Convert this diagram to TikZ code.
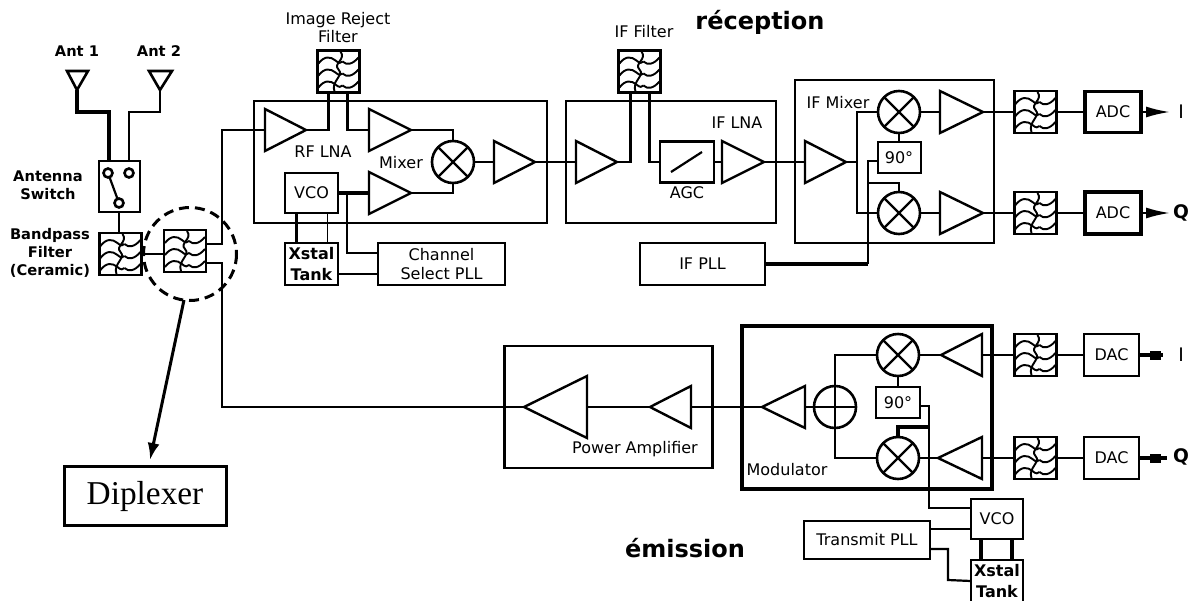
\documentclass[tikz,border=0pt]{standalone}
\usepackage{fontspec}
\setmainfont{DejaVu Sans}
\newfontfamily\timesf{Liberation Serif}
\usetikzlibrary{arrows.meta}
\newlength{\px}\setlength{\px}{.75pt}
\tikzset{
  x=.75pt,y=-.75pt,
  wire/.style={line width=2.2\px,line join=miter},
  thin wire/.style={line width=1.6\px},
  fat wire/.style={line width=3.2\px},
  blk/.style={draw,line width=2.4\px,outer sep=0pt,inner sep=0pt,align=center,font=\fontsize{12pt}{14pt}\selectfont},
  heavy/.style={line width=3.2\px},
  lbl/.style={inner sep=0pt,align=center,font=\fontsize{12pt}{13.5pt}\selectfont},
  blbl/.style={lbl,font=\bfseries\fontsize{11pt}{13.5pt}\selectfont},
  title/.style={inner sep=0pt,font=\bfseries\fontsize{18pt}{20pt}\selectfont},
  ampst/.style={draw,line width=2.4\px,line join=miter},
  mixst/.style={draw,circle,line width=2.6\px,minimum size=42\px,inner sep=0pt,outer sep=0pt},
  filtbox/.style={draw,line width=2.6\px,minimum size=42\px,inner sep=0pt,outer sep=0pt},
  wave/.style={line width=1.9\px},
  ant/.style={line width=2.6\px,line join=miter},
  swc/.style={draw,circle,line width=2.6\px,minimum size=9\px,inner sep=0pt,outer sep=0pt},
  blob/.style={line width=9\px},
  stem/.style={line width=4\px},
}
\newcommand{\ampx}[5]{% name, base x, apex x, y, half height
  \coordinate (#1-in) at (#2,#4);
  \coordinate (#1-out) at (#3,#4);
  \draw[ampst] (#2,{#4-#5}) -- (#3,#4) -- (#2,{#4+#5}) -- cycle;
}
\newcommand{\mixx}[3]{%
  \node[mixst] (#1) at (#2,#3) {};
  \draw[wire] (#1.45) -- (#1.225);
  \draw[wire] (#1.135) -- (#1.-45);
}
\newcommand{\filtx}[3]{%
  \node[filtbox] (#1) at (#2,#3) {};
  \begin{scope}[shift={(#2,#3)}]
    \foreach \yy in {-11,1,13}{
      \draw[wave] (-20,\yy+3) .. controls (-14,\yy-5) and (-8,\yy-4) .. (-3,\yy) .. controls (0,\yy+3) and (3,\yy+3) .. (4,\yy+1);
      \draw[wave] (4,\yy+1) .. controls (8,\yy+5) and (14,\yy+4) .. (20,\yy-3);
    }
    \draw[wave] (2,-20) .. controls (8,-12) and (-6,-8) .. (0,-2) .. controls (6,4) and (-8,10) .. (-4,20);
  \end{scope}
}
\begin{document}
\begin{tikzpicture}
\useasboundingbox (0,0) rectangle (1192,600);
\fill[white] (0,0) rectangle (1192,600);

% --- titles
\node[title] (trx) at (760,22) {réception};
\node[title] (ttx) at (685,548) {émission};

% --- antennas
\node[lbl,font=\bfseries\fontsize{11pt}{13pt}\selectfont] (la1) at (77,51) {Ant 1};
\node[lbl,font=\bfseries\fontsize{11pt}{13pt}\selectfont] (la2) at (159,51) {Ant 2};
\coordinate (a1) at (77,90);
\coordinate (a2) at (160,90);
\draw[ant] (67,71) -- (88,71) -- (a1) -- cycle;
\draw[ant] (149,71) -- (172,71) -- (a2) -- cycle;

% --- switch
\node[blk,minimum width=41\px,minimum height=51\px] (sw) at (119.5,186.5) {};
\node[swc] (s1) at (108,173) {};
\node[swc] (s2) at (129,173) {};
\node[swc] (s3) at (119,203) {};
\draw[wire] (s1) -- (s3);
\node[blbl] (lsw) at (48,185) {Antenna\\Switch};
\node[blbl] (lbp) at (50,253) {Bandpass\\Filter\\(Ceramic)};
\coordinate (sw1) at (sw.north -| 109,0);
\coordinate (sw2) at (sw.north -| 129,0);
\draw[wire,fat wire] (a1) |- (109,112) -- (sw1);
\draw[wire] (a2) |- (129,112) -- (sw2);

% --- filters at the front
\filtx{bp}{120.5}{254}
\filtx{dp}{185}{251}
\draw[wire] (sw.south -| 119,0) -- (bp.north -| 119,0);
\draw[thin wire] (bp.east) -- (dp.west |- bp.east);
\draw[line width=3\px,dash pattern=on 10\px off 6\px] (190,254) circle[radius=46.5];

% --- diplexer
\node[blk,line width=3\px,minimum width=162\px,minimum height=59\px,font=\timesf\fontsize{25pt}{28pt}\selectfont] (dip) at (145,496) {Diplexer};
\coordinate (dcb) at (184,300);
\coordinate (dtip) at (150,460);
\draw[line width=3\px,-{Latex[length=12.75pt,width=9pt]}] (dcb) -- (dtip);

% --- RF LNA
\node[blk,minimum width=293\px,minimum height=122\px] (rfb) at (400.5,162) {};
\filtx{irf}{338.5}{71.5}
\node[lbl] (lirf) at (338,28) {Image Reject\\Filter};
\ampx{a11}{265}{306}{130}{21}
\ampx{a12}{369}{411}{130}{21}
\ampx{a13}{369}{411}{193}{21}
\ampx{a14}{494}{535}{162}{21}
\mixx{m1}{453}{162}
\node[lbl] (lrf) at (323,152) {RF LNA};
\node[lbl] (lmx) at (401,163) {Mixer};
\node[blk,minimum width=53\px,minimum height=40\px] (vco1) at (311.5,193) {VCO};
\node[blk,minimum width=53\px,minimum height=42\px,font=\bfseries\fontsize{12pt}{16pt}\selectfont] (xt1) at (311.5,264) {Xstal\\Tank};
\node[blk,minimum width=127\px,minimum height=42\px] (cs) at (441.5,264) {Channel\\Select PLL};
\draw[wire] ([yshift=7\px]dp.east) -| (222,130) -- (a11-in);
\draw[wire] (a11-out) -| ([xshift=-10\px]irf.south);
\draw[wire] ([xshift=9\px]irf.south) |- (a12-in);
\draw[wire] (a12-out) -| (m1.north);
\draw[wire] (a13-out) -| (m1.south);
\draw[wire,fat wire] (vco1.east) -- (a13-in);
\draw[wire] ([xshift=-15\px]vco1.south) -- ([xshift=-15\px]xt1.north);
\draw[thin wire] ([xshift=16\px]vco1.south) -- ([xshift=16\px]xt1.north);
\coordinate (j1) at (347,193);
\draw[wire] (j1) |- ([yshift=11\px]cs.west);
\draw[wire] ([yshift=-10\px]xt1.east) -- ([yshift=-10\px]cs.west);
\draw[wire] (m1.east) -- (a14-in);
\draw[wire] (a14-out) -- (576,162);

% --- IF LNA
\node[blk,minimum width=210\px,minimum height=122\px] (ifb) at (671,162) {};
\filtx{iff}{639.5}{71.5}
\node[lbl] (liff) at (644,32) {IF Filter};
\ampx{a21}{576}{617}{162}{21}
\node[blk,minimum width=54\px,minimum height=41\px] (agc) at (687,162) {};
\coordinate (sl1) at (671,172);
\coordinate (sl2) at (702,152);
\draw[wire] (sl1) -- (sl2);
\node[lbl] (lagc) at (687,193) {AGC};
\ampx{a22}{722}{764}{162}{21}
\node[lbl] (lifl) at (737,123) {IF LNA};
\draw[wire] (a21-out) -| ([xshift=-9\px]iff.south);
\draw[wire] ([xshift=10\px]iff.south) |- (agc.west);
\draw[wire] (agc.east) -- (a22-in);

% --- IF mixer
\node[blk,minimum width=199\px,minimum height=163\px] (ifm) at (894.5,161.5) {};
\node[lbl] (lifm) at (838,103) {IF Mixer};
\ampx{a31}{805}{846}{162}{21}
\mixx{m2}{899}{112}
\mixx{m3}{899}{213}
\node[blk,line width=2\px,minimum width=43\px,minimum height=31\px] (q1) at (899,157.5) {90°};
\ampx{a32}{940}{983}{112}{21}
\ampx{a33}{940}{983}{213}{21}
\node[blk,minimum width=125\px,minimum height=42\px] (ifp) at (702.5,264) {IF PLL};
\draw[wire] (a22-out) -- (a31-in);
\coordinate (j2) at (857,162);
\draw[wire] (a31-out) -- (j2);
\draw[wire] (j2) |- (m2.west);
\draw[wire] (j2) |- (m3.west);
\draw[wire] (m2.south) -- (q1.north);
\draw[wire] ([yshift=-3.5\px]q1.west) -| (868,264);
\draw[wire,fat wire] (ifp.east) -- (868,264);
\coordinate (j3) at (868,183);
\draw[wire] (j3) -| (m3.north);
\draw[wire] (m2.east) -- (a32-in);
\draw[wire] (m3.east) -- (a33-in);

% --- RX outputs
\filtx{f1}{1035.5}{112}
\filtx{f2}{1035.5}{213}
\node[blk,heavy,minimum width=56\px,minimum height=41\px] (adc1) at (1113,112) {ADC};
\node[blk,heavy,minimum width=56\px,minimum height=42\px] (adc2) at (1113,213) {ADC};
\node[lbl,font=\fontsize{14pt}{15pt}\selectfont] (ii) at (1181,112) {I};
\node[lbl,font=\bfseries\fontsize{14pt}{15pt}\selectfont] (qi) at (1181,213) {Q};
\coordinate (ti) at (1170,112);
\coordinate (tq) at (1170,213);
\draw[wire] (a32-out) -- (f1.west);
\draw[wire] (a33-out) -- (f2.west);
\draw[wire] (f1.east) -- (adc1.west);
\draw[wire] (f2.east) -- (adc2.west);
\draw[wire,-{Latex[length=18pt,width=8.25pt]}] (adc1.east) -- (ti);
\draw[wire,-{Latex[length=18pt,width=8.25pt]}] (adc2.east) -- (tq);

% --- modulator
\node[blk,heavy,minimum width=250\px,minimum height=163\px] (mod) at (867,407.5) {};
\node[lbl] (lmod) at (787,470) {Modulator};
\mixx{m4}{898}{355}
\mixx{m5}{898}{458}
\node[blk,line width=2\px,minimum width=44\px,minimum height=31\px] (q2) at (898,402.5) {90°};
\ampx{a41}{982}{941}{355}{21}
\ampx{a42}{982}{938}{458}{21}
\ampx{a43}{805}{762}{407}{21}
\node[mixst] (sum) at (835,407) {};
\draw[wire] (sum.north) -- (sum.south);
\draw[wire] (sum.west) -- (sum.east);
\draw[wire] (sum.north) |- (m4.west);
\draw[wire] (sum.south) |- (m5.west);
\draw[wire] (sum.west) -- (a43-in);
\draw[wire] (m4.east) -- (a41-out);
\draw[wire] (m5.east) -- (a42-out);
\draw[wire] (m4.south) -- (q2.north);

% --- TX inputs
\filtx{f3}{1035.5}{355}
\filtx{f4}{1035.5}{458}
\node[blk,minimum width=55\px,minimum height=42\px] (dac1) at (1111.5,355) {DAC};
\node[blk,minimum width=55\px,minimum height=42\px] (dac2) at (1111.5,458) {DAC};
\node[lbl,font=\fontsize{14pt}{15pt}\selectfont] (io) at (1181,355) {I};
\node[lbl,font=\bfseries\fontsize{14pt}{15pt}\selectfont] (qo) at (1181,457) {Q};
\coordinate (to1) at (1163,355);
\coordinate (to2) at (1167,458);
\coordinate (tb1) at (1150,355);
\coordinate (tb2) at (1150,458);
\draw[wire] (a41-in) -- (f3.west);
\draw[wire] (a42-in) -- (f4.west);
\draw[wire] (f3.east) -- (dac1.west);
\draw[wire] (f4.east) -- (dac2.west);
\draw[stem] (dac1.east) -- (to1);
\draw[stem] (dac2.east) -- (to2);
\draw[blob] (tb1) -- ++(11,0);
\draw[blob] (tb2) -- ++(11,0);

% --- power amplifier
\node[blk,minimum width=208\px,minimum height=122\px] (pa) at (608.5,407) {};
\node[lbl] (lpa) at (635,449) {Power Amplifier};
\ampx{a51}{587}{524}{407}{31}
\ampx{a52}{691}{650}{407}{21}
\draw[wire] (a43-out) -- (a52-in);
\draw[wire] (a52-out) -- (a51-in);
\draw[wire] ([yshift=-12\px]dp.east) -| (222,407) -- (a51-out);

% --- TX synth
\node[blk,minimum width=52\px,minimum height=40\px] (vco2) at (997,519) {VCO};
\node[blk,minimum width=52\px,minimum height=42\px,font=\bfseries\fontsize{12pt}{16pt}\selectfont] (xt2) at (997,581) {Xstal\\Tank};
\node[blk,minimum width=126\px,minimum height=38\px] (tp) at (867,540) {Transmit PLL};
\coordinate (j4) at (929,427);
\draw[thin wire] ([yshift=-3.5\px]q2.east) -| (929,508) -- ([yshift=11\px]vco2.west);
\draw[wire,fat wire] (j4) -| (m5.north);
\draw[thin wire] ([yshift=11\px]tp.east) -- ([yshift=-10\px]vco2.west);
\draw[wire] ([yshift=-9\px]tp.east) -| (948,580) -- (xt2.west);
\draw[wire,fat wire] ([xshift=-16\px]vco2.south) -- ([xshift=-16\px]xt2.north);
\draw[wire,fat wire] ([xshift=15\px]vco2.south) -- ([xshift=15\px]xt2.north);
\end{tikzpicture}
\end{document}
